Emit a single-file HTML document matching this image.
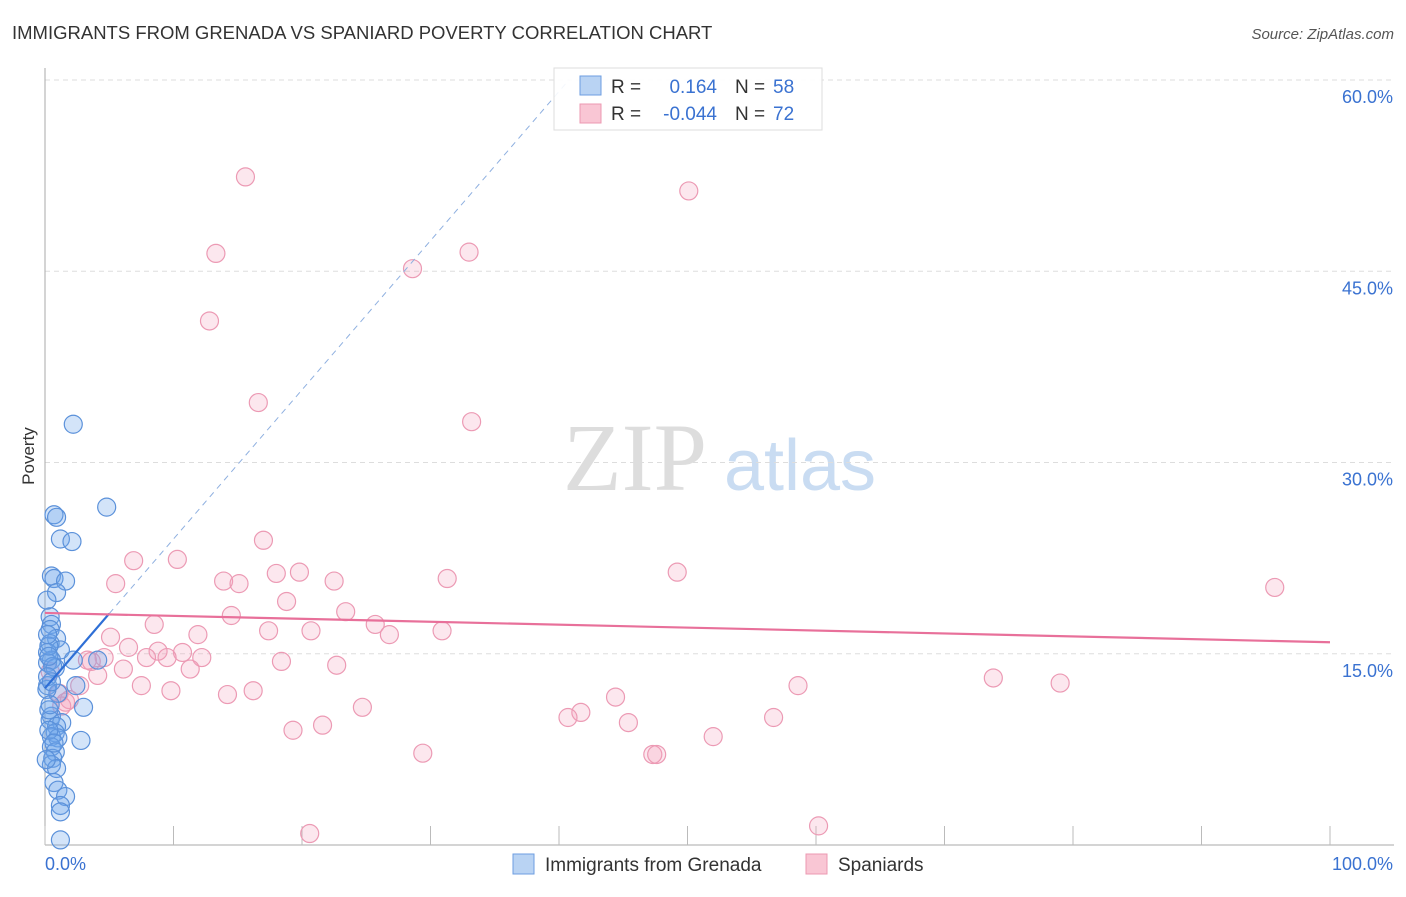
<!DOCTYPE html>
<html><head><meta charset="utf-8"><style>
body{margin:0;background:#fff;font-family:"Liberation Sans",sans-serif;}
</style></head><body>
<svg width="1406" height="892" viewBox="0 0 1406 892" xmlns="http://www.w3.org/2000/svg">
<text x="12" y="39" font-size="18.5" fill="#333">IMMIGRANTS FROM GRENADA VS SPANIARD POVERTY CORRELATION CHART</text>
<text x="1394" y="39" font-size="15" fill="#555" font-style="italic" text-anchor="end">Source: ZipAtlas.com</text>
<g>
<text x="635" y="490" font-size="96" fill="#ddd" text-anchor="middle" font-family="Liberation Serif,serif">ZIP</text>
<text x="800" y="490" font-size="72" fill="#c9dcf2" text-anchor="middle">atlas</text>
</g>
<g id="grid"></g>
<g id="axes"></g>
<g id="marks"></g>
<text x="34" y="456" font-size="17" fill="#333" text-anchor="middle" transform="rotate(-90 34 456)">Poverty</text>
<g>
<rect x="554" y="68" width="268" height="62" fill="#fff" fill-opacity="0.9" stroke="#ddd"/>
<rect x="580" y="76" width="21" height="19" fill="#b9d3f3" stroke="#6d9ee0"/>
<rect x="580" y="104" width="21" height="19" fill="#f9c6d4" stroke="#ec98b2"/>
<text x="611" y="93" font-size="19" fill="#333">R = </text>
<text x="717" y="93" font-size="19" fill="#3a72d1" text-anchor="end">0.164</text>
<text x="735" y="93" font-size="19" fill="#333">N = </text>
<text x="773" y="93" font-size="19" fill="#3a72d1">58</text>
<text x="611" y="120" font-size="19" fill="#333">R = </text>
<text x="717" y="120" font-size="19" fill="#3a72d1" text-anchor="end">-0.044</text>
<text x="735" y="120" font-size="19" fill="#333">N = </text>
<text x="773" y="120" font-size="19" fill="#3a72d1">72</text>
</g>
<g>
<rect x="513" y="854" width="21" height="20" fill="#b9d3f3" stroke="#6d9ee0"/>
<text x="545" y="871" font-size="19" fill="#333">Immigrants from Grenada</text>
<rect x="806" y="854" width="21" height="20" fill="#f9c6d4" stroke="#ec98b2"/>
<text x="838" y="871" font-size="19" fill="#333">Spaniards</text>
</g>
</svg>
<script>
const yTicks=[15,30,45,60];
const yTickLabels=["15.0%","30.0%","45.0%","60.0%"];
const xTickVals=[0,10,20,30,40,50,60,70,80,90,100];
const blueX=[2.2,4.8,0.7,0.9,1.2,2.1,0.5,0.7,1.6,0.9,0.4,0.5,0.4,0.9,0.4,1.2,0.2,0.5,0.2,2.2,4.1,0.8,0.2,2.4,1.0,3.0,0.5,0.4,1.3,0.9,0.8,0.5,1.0,2.8,0.5,0.8,0.6,0.5,0.9,0.7,1.0,1.6,1.2,1.2,1.2,0.15,0.15,0.3,0.1,0.3,0.6,0.2,0.4,0.3,0.7,0.2,0.5,0.3];
const blueY=[33.0,26.5,25.9,25.7,24.0,23.8,21.1,20.9,20.7,19.8,17.9,17.3,16.9,16.2,15.8,15.3,15.1,14.5,14.3,14.5,14.5,13.9,12.5,12.5,11.9,10.8,10.1,9.8,9.6,9.3,8.8,8.5,8.4,8.2,7.7,7.3,6.8,6.3,6.0,4.9,4.3,3.8,3.1,2.6,0.4,19.2,12.2,10.6,6.7,15.6,14.0,13.2,11.0,9.0,8.0,16.5,12.8,14.8];
const pinkX=[15.6,50.1,13.3,33.0,28.6,12.8,16.6,33.2,17.0,6.9,10.3,13.9,15.1,5.5,18.0,19.8,22.5,31.3,49.2,95.7,18.8,14.5,23.4,8.5,25.7,17.4,20.7,26.8,30.9,5.1,11.9,6.5,8.8,10.7,7.9,9.5,12.2,4.6,3.3,18.4,6.1,11.3,22.7,4.1,2.7,7.5,9.8,14.2,16.2,1.1,1.9,1.3,44.4,58.6,73.8,79.0,24.7,41.7,40.7,45.4,56.7,21.6,19.3,52.0,29.4,47.3,47.6,20.6,60.2,0.4,1.6,3.6];
const pinkY=[52.4,51.3,46.4,46.5,45.2,41.1,34.7,33.2,23.9,22.3,22.4,20.7,20.5,20.5,21.3,21.4,20.7,20.9,21.4,20.2,19.1,18.0,18.3,17.3,17.3,16.8,16.8,16.5,16.8,16.3,16.5,15.5,15.2,15.1,14.7,14.7,14.7,14.7,14.5,14.4,13.8,13.8,14.1,13.3,12.5,12.5,12.1,11.8,12.1,11.9,11.4,10.9,11.6,12.5,13.1,12.7,10.8,10.4,10.0,9.6,10.0,9.4,9.0,8.5,7.2,7.1,7.1,0.9,1.5,13.6,11.2,14.4];
const blueTrend=[12.3,1.17];
const pinkTrend=[18.2,15.9];
const NS="http://www.w3.org/2000/svg";
const X=v=>45+v*12.85, Y=v=>845-v*12.75;
function mk(tag,at,parent){const e=document.createElementNS(NS,tag);for(const k in at)e.setAttribute(k,at[k]);document.getElementById(parent).appendChild(e);return e;}
yTicks.forEach((t,i)=>{
 const g=mk('line',{x1:45,x2:1394,y1:Y(t),y2:Y(t),stroke:'#ddd','stroke-dasharray':'5,4'},'grid');
 
 
 const l=mk('text',{x:1393,y:Y(t)+23,'font-size':18,fill:'#3a72d1','text-anchor':'end'},'axes');
 l.textContent=yTickLabels[i];
 
 
});
let a=mk('line',{x1:45,x2:45,y1:68,y2:845,stroke:'#aaa'},'axes');


a=mk('line',{x1:45,x2:1394,y1:845,y2:845,stroke:'#aaa'},'axes');


xTickVals.forEach(v=>{
 const t=mk('line',{x1:X(v),x2:X(v),y1:826,y2:845,stroke:'#bbb'},'axes');
 
 
});
let xl=mk('text',{x:45,y:870,'font-size':18,fill:'#3a72d1'},'axes');xl.textContent='0.0%';


xl=mk('text',{x:1393,y:870,'font-size':18,fill:'#3a72d1','text-anchor':'end'},'axes');xl.textContent='100.0%';


pinkX.forEach((x,i)=>{
 const c=mk('circle',{cx:X(x),cy:Y(pinkY[i]),r:9,fill:'rgba(244,160,188,0.25)',stroke:'#ec9ab4','stroke-width':1.2},'marks');
 
 
});
blueX.forEach((x,i)=>{
 const c=mk('circle',{cx:X(x),cy:Y(blueY[i]),r:9,fill:'rgba(110,165,235,0.3)',stroke:'#5b91da','stroke-width':1.2},'marks');
 
 
});
const xEnd=(60-blueTrend[0])/blueTrend[1];
let ln=mk('line',{x1:X(5),y1:Y(blueTrend[0]+5*blueTrend[1]),x2:X(xEnd),y2:Y(60),stroke:'#8fb0e0','stroke-width':1,'stroke-dasharray':'6,5'},'marks');


ln=mk('line',{x1:X(0),y1:Y(blueTrend[0]),x2:X(5),y2:Y(blueTrend[0]+5*blueTrend[1]),stroke:'#2e6fd6','stroke-width':2.2},'marks');


ln=mk('line',{x1:X(0),y1:Y(pinkTrend[0]),x2:X(100),y2:Y(pinkTrend[1]),stroke:'#e8709a','stroke-width':2.2},'marks');


</script>
</body></html>
